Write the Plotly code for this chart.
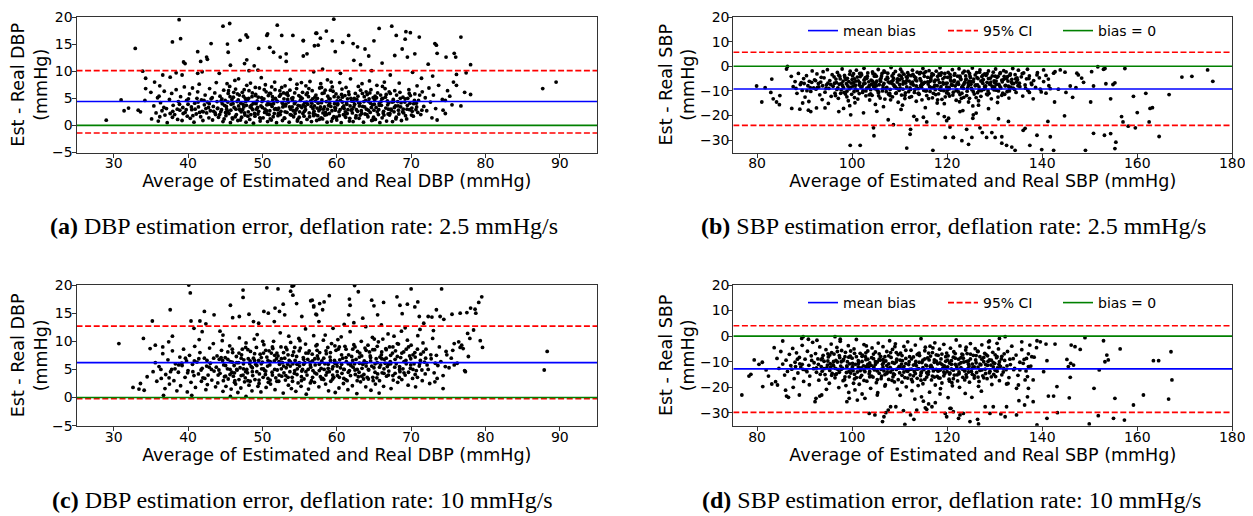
import plotly.graph_objects as go

# ---------------- data ----------------
# (a) DBP, 2.5 mmHg/s
dbp25_core = [
(35.1,1.2),(35.4,3.6),(35.7,2.3),(35.9,5.1),
(36.0,0.8),(36.3,4.2),(36.5,2.7),(36.8,6.3),(36.9,1.9),
(37.1,3.1),(37.2,0.5),(37.5,4.8),(37.6,2.2),(37.8,5.9),(37.9,1.5),
(38.0,3.7),(38.2,2.0),(38.4,6.6),(38.6,1.1),(38.7,4.4),(38.9,2.8),
(39.0,5.3),(39.2,0.9),(39.3,3.3),(39.5,7.1),(39.6,2.4),(39.8,4.6),(39.9,1.7),
(40.0,3.9),(40.2,5.8),(40.3,1.3),(40.5,2.9),(40.6,6.9),(40.8,0.6),(40.9,4.1),(40.95,3.0),
(41.1,2.1),(41.2,5.0),(41.4,3.4),(41.5,7.6),(41.7,1.6),(41.8,4.7),(41.9,2.6),(41.3,6.2),
(42.0,0.9),(42.2,3.8),(42.3,5.6),(42.5,2.3),(42.6,4.3),(42.8,1.4),(42.9,6.8),(42.4,3.1),
(43.0,2.7),(43.1,4.9),(43.3,1.0),(43.4,3.5),(43.6,6.0),(43.7,2.0),(43.9,4.4),(43.8,7.9),
(44.0,3.2),(44.1,1.5),(44.3,5.4),(44.4,2.5),(44.6,4.0),(44.7,0.7),(44.8,6.5),(44.9,3.7),(44.5,2.9),
(45.0,4.6),(45.1,1.8),(45.2,3.0),(45.4,5.9),(45.5,2.2),(45.6,7.2),(45.7,0.5),(45.8,3.9),(45.9,4.8),(45.3,2.6),
(46.0,1.2),(46.1,5.2),(46.2,3.3),(46.4,6.7),(46.5,2.0),(46.6,4.4),(46.7,0.9),(46.8,3.6),(46.9,5.6),(46.3,8.3),
(47.0,2.8),(47.1,4.1),(47.2,1.5),(47.3,6.1),(47.5,3.4),(47.6,2.3),(47.7,5.0),(47.8,0.6),(47.9,7.4),(47.4,3.9),(47.65,1.9),
(48.0,4.6),(48.1,2.5),(48.2,6.4),(48.3,1.1),(48.5,3.7),(48.6,5.3),(48.7,2.9),(48.8,0.4),(48.9,4.2),(48.4,7.8),(48.55,3.2),
(49.0,1.7),(49.1,5.7),(49.2,3.0),(49.3,4.5),(49.4,2.1),(49.6,6.9),(49.7,0.8),(49.8,3.6),(49.9,5.1),(49.5,2.6),(49.85,8.8),
(50.0,3.3),(50.1,1.4),(50.2,4.9),(50.3,2.4),(50.5,6.2),(50.6,3.8),(50.7,0.7),(50.8,5.5),(50.9,2.0),(50.4,7.5),(50.75,4.3),
(51.0,2.7),(51.1,5.9),(51.2,1.0),(51.3,3.5),(51.4,4.7),(51.6,2.2),(51.7,6.6),(51.8,3.1),(51.9,0.5),(51.5,4.0),(51.65,8.0),
(52.0,4.4),(52.1,1.8),(52.2,3.2),(52.3,5.4),(52.5,2.6),(52.6,7.0),(52.7,0.9),(52.8,3.9),(52.9,4.9),(52.4,2.0),(52.85,6.0),
(53.0,1.3),(53.1,3.6),(53.2,5.8),(53.3,2.4),(53.5,4.3),(53.6,0.6),(53.7,6.5),(53.8,3.0),(53.9,1.9),(53.4,4.8),(53.75,8.5),
(54.0,3.4),(54.1,5.1),(54.2,1.6),(54.3,4.0),(54.5,2.8),(54.6,6.8),(54.7,0.8),(54.8,3.7),(54.9,5.5),(54.4,2.2),(54.65,7.6),
(55.0,2.5),(55.1,4.6),(55.2,0.5),(55.3,3.3),(55.4,6.1),(55.6,1.7),(55.7,4.2),(55.8,2.9),(55.9,5.7),(55.5,3.8),(55.85,7.3),
(56.0,1.1),(56.1,3.9),(56.2,5.3),(56.3,2.3),(56.5,4.5),(56.6,0.7),(56.7,6.4),(56.8,3.1),(56.9,1.8),(56.4,8.1),(56.75,4.9),
(57.0,3.6),(57.1,2.0),(57.2,5.6),(57.3,0.9),(57.5,4.1),(57.6,2.7),(57.7,6.9),(57.8,3.4),(57.9,1.4),(57.4,5.0),(57.85,7.7),
(58.0,4.7),(58.1,1.2),(58.2,3.0),(58.3,6.0),(58.5,2.4),(58.6,4.4),(58.7,0.6),(58.8,5.4),(58.9,3.7),(58.4,1.9),(58.75,8.4),
(59.0,2.2),(59.1,4.9),(59.2,3.5),(59.3,0.8),(59.5,6.3),(59.6,1.6),(59.7,4.0),(59.8,2.8),(59.9,5.8),(59.4,7.1),(59.85,3.2),
(60.0,1.0),(60.1,3.8),(60.2,5.2),(60.3,2.5),(60.5,4.6),(60.6,0.5),(60.7,6.7),(60.8,3.3),(60.9,2.0),(60.4,7.9),(60.75,4.3),
(61.0,3.1),(61.1,5.5),(61.2,1.5),(61.3,4.2),(61.5,2.9),(61.6,6.2),(61.7,0.8),(61.8,3.6),(61.9,5.0),(61.4,2.2),(61.85,8.6),
(62.0,4.5),(62.1,2.3),(62.2,0.7),(62.3,3.4),(62.5,5.9),(62.6,1.8),(62.7,4.8),(62.8,2.6),(62.9,7.2),(62.4,3.9),
(63.0,1.3),(63.1,4.1),(63.2,6.5),(63.3,2.7),(63.5,3.5),(63.6,0.6),(63.7,5.3),(63.8,2.1),(63.9,4.6),(63.4,7.7),
(64.0,3.0),(64.1,5.7),(64.2,1.6),(64.3,4.4),(64.5,2.4),(64.6,6.6),(64.7,0.9),(64.8,3.8),(64.9,5.1),(64.4,8.2),
(65.0,2.8),(65.1,4.7),(65.2,1.1),(65.3,3.3),(65.5,6.0),(65.6,2.0),(65.7,4.0),(65.8,0.5),(65.9,5.6),(65.4,7.4),
(66.0,3.7),(66.1,1.4),(66.2,5.0),(66.3,2.6),(66.5,6.8),(66.6,3.2),(66.7,0.8),(66.8,4.5),(66.9,2.1),(66.4,8.0),
(67.0,4.2),(67.1,1.9),(67.2,5.9),(67.3,3.0),(67.5,0.7),(67.6,4.8),(67.7,2.5),(67.8,6.4),(67.9,3.6),
(68.0,1.5),(68.2,4.4),(68.3,2.8),(68.5,6.1),(68.6,3.4),(68.7,0.9),(68.9,5.2),(68.4,7.8),
(69.0,2.3),(69.2,4.9),(69.4,1.2),(69.5,3.7),(69.7,6.6),(69.8,2.9),(69.9,5.5),
(70.1,3.2),(70.3,1.7),(70.5,5.8),(70.7,4.1),(70.8,7.3),(70.9,2.4),
(71.0,4.6),(71.3,2.0),(71.5,6.2),(71.7,3.5),(71.9,5.1),
(72.1,2.7),(72.4,6.9),(72.6,4.3),(72.8,1.4),
(73.0,5.6),(73.3,3.1),(73.7,7.4),
(74.2,4.8),(74.6,2.2),
(75.2,5.4),(75.5,3.8),
]
dbp25_core2 = [
(44.25,2.0),(44.55,4.9),(44.85,1.2),(45.15,3.5),(45.45,6.4),(45.75,2.8),(46.05,4.0),(46.35,1.6),(46.65,5.8),(46.95,3.0),
(47.15,2.5),(47.45,5.4),(47.75,4.4),(48.05,1.7),(48.35,3.4),(48.65,6.0),(48.95,2.2),(49.15,4.0),(49.45,5.2),(49.75,1.3),
(50.05,4.7),(50.35,3.0),(50.65,2.1),(50.95,5.9),(51.15,3.9),(51.45,1.6),(51.75,5.0),(52.05,2.9),(52.35,6.4),(52.65,4.2),
(52.95,1.4),(53.15,3.9),(53.45,5.5),(53.75,2.0),(54.05,4.6),(54.35,6.0),(54.65,3.1),(54.95,1.5),(55.15,5.2),(55.45,2.2),
(55.75,3.5),(56.05,6.0),(56.35,1.6),(56.65,4.1),(56.95,2.6),(57.15,4.5),(57.45,1.8),(57.75,3.0),(58.05,5.9),(58.35,3.4),
(58.65,2.0),(58.95,4.9),(59.15,6.5),(59.45,1.3),(59.75,3.3),(60.05,4.5),(60.35,1.8),(60.65,5.7),(60.95,3.6),(61.15,2.5),
(61.45,4.9),(61.75,1.3),(62.05,3.0),(62.35,5.0),(62.65,2.9),(62.95,4.2),(63.15,1.9),(63.45,5.9),(63.75,3.4),(64.05,2.0),
(64.35,4.9),(64.65,3.3),(64.95,1.5),(65.15,5.4),(65.45,2.5),(65.75,3.7),(66.05,4.9),(66.35,1.9),(66.65,5.7),(66.95,3.0),
(67.15,2.2),(67.45,4.3),(67.75,3.3),(68.05,5.6),(68.35,2.1),(68.65,4.2),(68.95,3.0),(69.25,1.8),(69.55,5.0),(69.85,4.1),
(70.15,2.6),(70.45,4.6),(70.75,3.4),(71.15,5.6),(71.45,2.8),(41.55,2.4),(42.15,4.6),(42.75,3.3),(43.25,5.1),(43.65,2.3),
(40.45,3.4),(39.75,2.9),(38.85,3.9),(37.95,2.6),(36.75,3.3),(36.2,1.6),(57.95,7.0),(53.05,7.3),(49.05,7.0),(61.25,7.0),
(64.45,6.0),(66.15,7.2),(45.25,7.7),(51.25,7.1),(55.25,7.9),(59.25,8.0),
]
dbp25_core3 = [
(45.05,2.4),(45.35,4.3),(45.65,5.3),(45.95,1.4),(46.15,6.1),(46.45,3.0),(46.75,4.7),(47.05,1.0),(47.35,2.9),(47.55,6.6),
(47.85,3.7),(48.15,5.0),(48.45,2.0),(48.75,4.0),(49.05,5.5),(49.35,3.3),(49.65,1.4),(49.95,4.4),(50.25,6.6),(50.55,2.7),
(50.85,3.9),(51.05,1.2),(51.35,5.3),(51.65,3.0),(51.95,4.5),(52.15,2.2),(52.45,5.7),(52.75,3.4),(53.05,2.5),(53.35,6.0),
(53.65,3.4),(53.95,5.0),(54.15,2.7),(54.45,4.3),(54.75,1.1),(55.05,3.6),(55.35,5.0),(55.65,2.6),(55.95,4.3),(56.25,6.8),
(56.55,3.5),(56.85,2.2),(57.05,5.2),(57.35,3.2),(57.65,1.1),(57.95,4.2),(58.15,2.3),(58.45,6.5),(58.75,3.0),(59.05,4.1),
(59.35,2.7),(59.65,5.3),(59.95,1.5),(60.15,4.0),(60.45,2.9),(60.75,5.2),(61.05,1.9),(61.35,3.9),(61.65,5.7),(61.95,2.8),
(62.25,4.4),(62.55,1.4),(62.85,5.4),(63.05,3.6),(63.35,2.2),(63.65,4.4),(63.95,6.2),(64.25,2.8),(64.55,4.1),(64.85,1.0),
(65.05,3.9),(65.35,5.1),(65.65,2.9),(65.95,4.4),(66.25,2.3),(66.55,5.2),(66.85,3.8),(67.05,6.2),(67.35,2.8),(67.65,4.4),
(67.95,1.2),(68.25,3.6),(68.55,5.0),(68.85,2.5),(69.15,4.3),(69.45,3.0),(69.75,5.9),(70.05,1.9),(70.35,4.0),(70.65,2.9),
(43.45,2.6),(42.85,4.0),(42.05,2.5),(41.35,4.3),(40.65,1.8),(40.05,4.9),(39.35,2.2),(38.55,3.0),(44.45,4.5),(43.95,3.1),
]
dbp25_outer = [
(29.0,0.97),(31.0,4.7),(31.4,2.7),(32.0,3.2),(32.9,14.2),(33.9,10.0),(34.3,8.7),(34.3,6.8),
(33.3,2.8),(33.6,2.5),(38.8,19.5),(39.0,16.0),(37.9,15.4),(39.4,11.7),(39.6,11.4),(41.3,13.6),
(41.7,11.8),(42.5,12.6),(42.6,12.2),(43.1,15.1),(44.7,18.3),(45.6,18.8),(45.3,15.0),(45.4,13.5),
(45.7,11.1),(47.0,15.7),(47.8,16.7),(48.0,16.3),(49.5,14.2),(50.7,16.9),(50.6,16.6),(52.0,18.5),
(52.6,16.6),(54.1,16.6),(55.5,15.6),(56.0,13.2),(57.2,17.0),(57.5,14.8),(51.0,14.4),(51.5,13.5),
(53.2,13.2),(53.2,11.8),(52.4,12.6),(47.9,12.1),(47.6,11.4),(48.9,11.0),(49.4,10.2),(48.2,10.1),
(46.8,8.6),(44.2,9.6),(41.9,9.9),(41.3,9.6),(39.2,9.3),(38.4,9.7),(37.6,8.9),(36.6,9.3),
(35.5,8.0),(36.2,7.3),(36.1,5.4),(35.0,6.1),(34.2,4.6),
(59.6,19.6),(57.3,17.0),(57.8,16.1),(58.6,17.4),(55.5,15.7),(57.0,14.7),(59.4,15.6),(59.8,13.6),
(61.6,16.6),(60.8,15.3),(62.2,15.1),(62.8,14.5),(63.8,14.1),(64.3,12.8),(65.0,15.6),(65.7,17.9),
(67.4,18.3),(68.0,16.6),(69.3,17.3),(69.9,17.1),(69.2,15.9),(71.1,16.3),(68.8,14.1),(67.8,12.9),
(69.5,12.6),(70.5,13.2),(73.2,15.1),(73.4,14.8),(73.5,13.3),(74.7,12.6),(75.8,13.3),(76.0,12.6),
(76.7,16.3),(78.0,11.2),(77.4,9.7),(76.1,9.4),(75.7,8.0),(76.1,7.4),(77.2,6.1),(78.0,5.7),
(76.7,3.6),(74.6,4.6),(74.3,2.8),(73.5,1.0),(74.9,6.4),(87.7,6.8),(89.5,8.0),
(72.3,11.3),(55.5,12.8),(62.3,12.0),(63.2,11.2),(66.1,11.5),
(58.1,10.4),(60.5,9.6),(64.7,10.1),(67.2,9.3),(70.2,9.8),(71.4,8.7),(72.9,9.1),(56.9,9.9),
]

# (b) SBP, 2.5 mmHg/s
sbp25_core = [
(87.2,-4.1),(87.6,-8.3),(88.0,-6.2),(88.4,-11.0),(88.7,-2.9),(89.1,-7.4),(89.5,-9.8),(89.8,-5.0),
(90.1,-12.5),(90.4,-3.8),(90.7,-7.9),(91.0,-6.1),(91.3,-10.2),(91.6,-1.9),(91.9,-8.8),(90.9,-14.3),
(92.1,-5.5),(92.4,-9.3),(92.6,-3.1),(92.9,-7.0),(93.2,-11.6),(93.4,-6.4),(93.7,-13.5),(93.9,-2.2),(93.0,-8.4),
(94.1,-4.7),(94.3,-10.5),(94.6,-7.6),(94.8,-1.4),(95.1,-9.0),(95.3,-5.8),(95.6,-12.2),(95.8,-3.4),(95.0,-15.1),(94.9,-6.9),
(96.0,-8.1),(96.2,-4.3),(96.4,-10.9),(96.7,-6.6),(96.9,-2.5),(97.1,-13.0),(97.3,-7.3),(97.5,-5.1),(97.7,-9.6),(97.9,-1.1),(96.5,-11.9),
(98.1,-6.0),(98.2,-8.7),(98.4,-3.7),(98.6,-11.3),(98.8,-7.1),(99.0,-4.9),(99.2,-14.0),(99.4,-9.2),(99.6,-2.0),(99.8,-6.8),(98.9,-10.1),(99.5,-16.0),
(100.0,-5.4),(100.2,-8.0),(100.3,-3.0),(100.5,-12.7),(100.7,-7.7),(100.9,-1.6),(101.1,-9.9),(101.3,-5.9),(101.5,-11.1),(101.7,-4.2),(101.9,-8.5),(100.6,-14.8),(101.6,-6.6),
(102.0,-3.5),(102.2,-10.6),(102.4,-7.2),(102.5,-0.8),(102.7,-5.2),(102.9,-12.0),(103.1,-8.9),(103.3,-2.7),(103.5,-6.3),(103.7,-13.7),(103.9,-9.5),(102.8,-4.6),(103.6,-7.9),
(104.0,-5.6),(104.2,-11.8),(104.3,-2.3),(104.5,-8.2),(104.7,-6.9),(104.9,-15.5),(105.1,-4.0),(105.3,-9.7),(105.5,-1.3),(105.7,-7.5),(105.9,-12.9),(104.8,-3.3),(105.6,-10.4),
(106.0,-6.1),(106.2,-3.9),(106.4,-10.0),(106.5,-7.8),(106.7,-1.9),(106.9,-13.3),(107.1,-5.3),(107.3,-8.6),(107.5,-2.8),(107.7,-11.4),(107.9,-6.7),(106.6,-16.4),(107.4,-4.4),
(108.0,-9.4),(108.2,-0.5),(108.4,-7.0),(108.5,-12.4),(108.7,-4.8),(108.9,-8.1),(109.1,-2.1),(109.3,-10.8),(109.5,-6.4),(109.7,-14.6),(109.9,-3.6),(108.6,-5.7),(109.4,-9.0),
(110.0,-7.4),(110.2,-1.2),(110.4,-11.7),(110.5,-5.0),(110.7,-9.3),(110.9,-3.2),(111.1,-13.1),(111.3,-6.8),(111.5,-8.4),(111.7,-2.6),(111.9,-10.3),(110.6,-15.8),(111.4,-4.3),
(112.0,-6.0),(112.2,-8.8),(112.4,-3.8),(112.5,-12.3),(112.7,-1.6),(112.9,-7.6),(113.1,-10.6),(113.3,-5.5),(113.5,-14.2),(113.7,-2.4),(113.9,-9.1),(112.6,-6.9),(113.4,-4.7),
(114.0,-11.0),(114.2,-3.0),(114.4,-7.9),(114.5,-5.9),(114.7,-13.6),(114.9,-0.9),(115.1,-9.8),(115.3,-6.5),(115.5,-2.2),(115.7,-11.9),(115.9,-4.5),(114.6,-8.5),(115.4,-16.8),
(116.0,-7.2),(116.2,-1.8),(116.4,-10.2),(116.5,-4.9),(116.7,-8.7),(116.9,-12.8),(117.1,-3.4),(117.3,-6.2),(117.5,-9.5),(117.7,-2.0),(117.9,-14.9),(116.6,-5.6),(117.4,-7.7),
(118.0,-4.1),(118.2,-11.2),(118.4,-6.6),(118.5,-0.6),(118.7,-8.3),(118.9,-13.4),(119.1,-5.1),(119.3,-9.9),(119.5,-2.9),(119.7,-7.0),(119.9,-10.8),(118.6,-3.6),(119.4,-15.2),
(120.0,-6.8),(120.2,-2.5),(120.4,-9.2),(120.5,-12.1),(120.7,-4.4),(120.9,-7.5),(121.1,-1.4),(121.3,-10.5),(121.5,-5.7),(121.7,-8.0),(121.9,-13.8),(120.6,-3.3),(121.4,-6.2),
(122.0,-9.6),(122.2,-4.0),(122.4,-7.3),(122.5,-1.0),(122.7,-11.5),(122.9,-5.4),(123.1,-8.6),(123.3,-2.7),(123.5,-12.6),(123.7,-6.5),(123.9,-3.9),(122.6,-14.4),(123.4,-9.0),
(124.0,-5.2),(124.2,-10.1),(124.4,-2.1),(124.5,-7.8),(124.7,-13.0),(124.9,-4.6),(125.1,-8.9),(125.3,-0.7),(125.5,-6.3),(125.7,-11.3),(125.9,-3.5),(124.6,-6.0),(125.4,-16.1),
(126.0,-7.6),(126.2,-2.6),(126.4,-10.7),(126.5,-5.0),(126.7,-8.4),(126.9,-1.5),(127.1,-12.2),(127.3,-4.2),(127.5,-6.9),(127.7,-9.4),(127.9,-3.1),(126.6,-14.0),(127.4,-5.8),
(128.0,-9.0),(128.2,-3.7),(128.4,-6.5),(128.5,-11.6),(128.7,-1.9),(128.9,-7.2),(129.1,-4.8),(129.3,-13.2),(129.5,-8.2),(129.7,-2.4),(129.9,-5.9),(128.6,-10.0),
(130.0,-6.7),(130.2,-1.1),(130.4,-9.7),(130.5,-4.5),(130.7,-12.5),(130.9,-7.4),(131.1,-3.0),(131.3,-8.8),(131.5,-5.6),(131.7,-10.9),(131.9,-1.8),(130.6,-14.7),
(132.0,-4.1),(132.2,-7.9),(132.4,-2.3),(132.6,-10.3),(132.8,-6.0),(133.0,-12.9),(133.2,-3.6),(133.4,-8.5),(133.6,-5.3),(133.8,-0.9),(133.1,-9.5),
(134.0,-7.0),(134.3,-3.4),(134.5,-10.6),(134.8,-5.5),(135.0,-1.6),(135.3,-8.3),(135.6,-4.3),(135.9,-12.1),(134.6,-6.4),
(136.1,-2.7),(136.4,-7.6),(136.7,-5.1),(137.0,-9.8),(137.3,-3.9),(137.7,-6.8),(136.9,-1.2),
(138.2,-5.8),(138.6,-8.6),(139.0,-2.6),(139.4,-4.7),(139.8,-10.4),
(140.3,-6.2),(140.8,-3.7),(141.4,-7.9),
]
sbp25_core2 = [
(96.3,-6.9),(96.8,-9.4),(97.2,-3.6),(97.6,-11.0),(98.0,-7.9),(98.5,-4.6),(98.9,-12.4),(99.3,-6.2),(99.7,-8.6),(100.1,-3.9),
(100.4,-10.3),(100.8,-6.0),(101.2,-13.3),(101.6,-2.9),(102.1,-8.2),(102.5,-5.6),(102.9,-10.0),(103.2,-4.0),(103.6,-11.6),(104.1,-7.3),
(104.4,-3.0),(104.8,-9.1),(105.2,-6.0),(105.6,-12.0),(106.1,-4.8),(106.5,-8.9),(106.9,-2.4),(107.2,-10.3),(107.6,-6.3),(108.1,-13.6),
(108.4,-3.9),(108.8,-7.6),(109.2,-11.0),(109.6,-5.1),(110.1,-8.8),(110.5,-2.3),(110.8,-6.2),(111.2,-10.8),(111.6,-4.6),(112.1,-12.6),
(112.4,-7.1),(112.8,-3.3),(113.2,-9.4),(113.6,-5.9),(114.1,-11.4),(114.4,-2.5),(114.8,-7.3),(115.2,-4.1),(115.6,-9.9),(116.1,-13.1),
(116.4,-6.1),(116.8,-3.0),(117.2,-8.6),(117.6,-11.5),(118.1,-5.5),(118.4,-9.3),(118.8,-2.7),(119.2,-7.2),(119.6,-12.4),(120.1,-4.5),
(120.4,-8.6),(120.8,-6.0),(121.2,-11.7),(121.6,-3.0),(122.1,-7.0),(122.4,-10.4),(122.8,-4.9),(123.2,-8.1),(123.6,-2.0),(124.1,-11.9),
(124.4,-6.8),(124.8,-3.9),(125.2,-9.5),(125.6,-5.2),(126.1,-12.7),(126.4,-7.6),(126.8,-2.4),(127.2,-9.9),(127.6,-5.4),(128.1,-8.0),
(128.4,-3.0),(128.8,-11.0),(129.2,-6.4),(129.6,-9.1),(130.1,-4.0),(130.4,-7.3),(130.8,-10.0),(131.2,-2.6),(131.6,-6.3),(132.1,-11.4),
(132.5,-5.0),(132.9,-8.1),(133.3,-3.1),(133.7,-7.0),(134.2,-9.4),(134.7,-4.7),(135.2,-6.9),(135.8,-3.0),(136.5,-8.9),(137.2,-5.0),
(95.5,-7.4),(94.5,-9.0),(93.5,-4.5),(92.7,-8.6),(91.5,-6.5),(90.5,-9.9),(89.3,-6.6),(88.2,-9.0),
(100.5,-5.1),(105.0,-6.6),(110.0,-5.5),(115.0,-7.0),(120.0,-9.8),(125.0,-7.3),(130.0,-8.4),(108.0,-11.9),(118.0,-13.6),(123.0,-13.0),
]
sbp25_core3 = [
(96.6,-5.2),(97.0,-8.8),(97.4,-4.0),(97.8,-7.0),(98.3,-10.6),(98.7,-5.4),(99.1,-8.0),(99.5,-3.2),(99.9,-11.4),(100.3,-6.6),
(100.7,-9.2),(101.1,-4.4),(101.5,-7.6),(101.9,-2.9),(102.3,-9.9),(102.7,-6.9),(103.1,-4.9),(103.5,-8.5),(103.9,-11.2),(104.3,-6.0),
(104.7,-4.0),(105.1,-7.9),(105.5,-10.7),(105.9,-5.4),(106.3,-2.9),(106.7,-7.0),(107.1,-9.0),(107.5,-4.9),(107.9,-11.0),(108.3,-6.2),
(108.7,-3.0),(109.1,-8.4),(109.5,-5.3),(109.9,-9.8),(110.3,-4.0),(110.7,-7.2),(111.1,-11.8),(111.5,-5.8),(111.9,-3.5),(112.3,-9.4),
(112.7,-6.4),(113.1,-4.2),(113.5,-8.0),(113.9,-11.0),(114.3,-5.0),(114.7,-7.0),(115.1,-2.8),(115.5,-10.0),(115.9,-6.3),(116.3,-8.3),
(116.7,-4.0),(117.1,-11.0),(117.5,-5.6),(117.9,-7.9),(118.3,-3.1),(118.7,-9.7),(119.1,-6.6),(119.5,-4.4),(119.9,-8.4),(120.3,-11.2),
(120.7,-5.5),(121.1,-7.7),(121.5,-3.6),(121.9,-9.9),(122.3,-6.4),(122.7,-4.0),(123.1,-10.9),(123.5,-7.3),(123.9,-5.5),(124.3,-8.8),
(124.7,-2.9),(125.1,-6.2),(125.5,-10.3),(125.9,-7.9),(126.3,-4.6),(126.7,-9.9),(127.1,-6.0),(127.5,-3.6),(127.9,-8.2),(128.3,-11.3),
(128.7,-5.0),(129.1,-7.4),(129.5,-3.9),(129.9,-9.6),(130.3,-6.0),(130.7,-4.1),(131.1,-8.2),(131.5,-11.8),(131.9,-5.3),(132.3,-7.8),
(132.7,-4.2),(133.1,-10.0),(133.5,-6.4),(133.9,-8.9),(134.4,-5.1),(134.9,-7.9),(93.8,-7.9),(92.3,-5.8),(91.2,-8.7),(89.9,-7.0),
]
sbp25_outer = [
(79.9,-8.0),(81.0,-14.5),(81.7,-8.7),(83.1,-5.2),(86.4,-0.1),(86.2,-1.1),(82.9,-10.6),(83.4,-13.2),
(84.1,-14.5),(84.8,-11.9),(84.7,-15.6),(87.3,-17.1),(89.0,-17.4),(90.8,-17.8),(91.3,-18.4),(89.6,-14.9),
(92.5,-16.9),(94.3,-16.9),(97.2,-18.4),(98.2,-17.1),(99.7,-19.7),(99.6,-32.1),(101.7,-32.1),(104.5,-25.0),
(104.6,-28.2),(107.6,-21.7),(108.7,-23.7),(111.5,-33.2),(112.2,-27.6),(112.3,-25.6),(113.6,-21.7),(115.0,-20.7),
(115.7,-22.6),(117.0,-34.1),(119.4,-20.4),(119.6,-28.9),(119.9,-22.1),(120.6,-24.7),(121.3,-28.9),
(105.2,-18.3),(110.3,-17.5),(118.1,-19.2),(123.3,-18.0),(128.7,-17.2),(113.0,-20.3),(102.4,-18.9),(126.1,-19.0),
(174.8,-1.5),(175.9,-6.1),(169.4,-4.4),(171.5,-4.1),(166.7,-11.5),(161.8,-11.0),(159.2,-12.2),(157.4,-0.9),
(160.0,-18.8),(162.7,-17.1),(163.2,-16.8),(162.5,-22.6),(164.6,-28.5),(159.6,-25.0),(158.1,-24.3),(157.0,-22.6),
(156.7,-20.4),(155.5,-30.8),(155.3,-33.4),(154.4,-13.2),(155.3,-6.7),(154.9,-7.4),(153.4,-7.1),(153.2,-0.9),
(152.9,-1.2),(151.7,-0.2),(150.4,-2.2),(150.8,-8.0),(150.2,-14.5),(150.8,-27.2),(153.1,-28.0),(154.4,-27.3),
(149.1,-34.1),(148.7,-6.5),(148.3,-4.8),(147.3,-2.8),(147.6,-3.5),(146.4,-12.6),(144.7,-20.1),(144.8,-2.4),
(143.8,-1.5),(142.7,-2.2),(142.4,-2.8),(142.6,-14.5),(141.3,-5.2),(141.2,-22.4),(141.7,-28.6),(142.4,-34.1),
(138.9,-28.0),(139.9,-33.8),(137.4,-32.1),(136.4,-25.2),(136.0,-26.0),(134.3,-34.1),(133.6,-32.8),(132.5,-32.1),
(131.5,-31.2),(131.5,-28.6),(130.1,-28.9),(129.4,-26.9),(130.8,-21.3),(132.9,-22.4),(128.3,-28.9),(127.4,-26.9),
(126.9,-25.0),(125.4,-21.1),(125.2,-28.9),(124.5,-31.7),(124.1,-25.6),(123.1,-30.2),(121.3,-28.9),(120.3,-21.1),
(124.5,-14.5),(122.7,-18.4),(125.5,-19.7),(126.6,-15.8),
(140.3,-1.5),(138.9,-3.5),(137.8,-7.4),(139.6,-9.3),(137.3,-10.6),(138.1,-13.2),(141.7,-9.1),(140.8,-10.9),
(143.4,-9.3),(145.0,-10.6),(145.9,-8.0),(147.1,-8.7),
]

# (c) DBP, 10 mmHg/s
dbp10_core = [
(35.3,4.6),(35.6,6.2),(35.8,2.9),
(36.1,5.5),(36.4,3.4),(36.6,7.8),(36.9,1.6),
(37.0,4.1),(37.3,6.7),(37.5,2.4),(37.8,5.0),(37.9,8.3),
(38.1,3.0),(38.3,6.0),(38.5,1.2),(38.7,4.5),(38.9,7.2),
(39.0,2.1),(39.2,5.7),(39.4,8.6),(39.6,3.6),(39.8,6.5),(39.9,1.0),
(40.0,4.8),(40.2,7.5),(40.4,2.7),(40.6,5.9),(40.8,3.9),(40.9,9.1),
(41.0,1.8),(41.2,6.3),(41.4,4.2),(41.6,8.0),(41.8,2.9),(41.9,5.2),(41.5,10.3),
(42.0,3.5),(42.2,7.0),(42.4,1.4),(42.5,5.6),(42.7,4.0),(42.9,8.8),(42.6,2.3),
(43.0,6.1),(43.2,3.1),(43.4,9.6),(43.5,4.7),(43.7,1.9),(43.9,7.4),(43.8,5.4),
(44.0,2.6),(44.2,6.8),(44.3,4.3),(44.5,8.4),(44.7,1.1),(44.8,5.8),(44.9,3.7),(44.6,10.1),
(45.0,7.1),(45.1,2.0),(45.3,5.1),(45.4,3.3),(45.6,9.2),(45.7,6.4),(45.8,1.5),(45.9,4.5),
(46.0,8.0),(46.1,3.8),(46.2,5.7),(46.4,2.4),(46.5,7.3),(46.6,4.9),(46.7,0.9),(46.8,6.2),(46.9,10.6),(46.3,3.0),
(47.0,5.3),(47.1,1.7),(47.3,8.6),(47.4,4.0),(47.5,6.7),(47.6,2.8),(47.8,9.7),(47.9,5.0),(47.7,3.5),(47.2,7.6),
(48.0,4.4),(48.1,6.9),(48.2,2.2),(48.4,8.2),(48.5,5.5),(48.6,1.2),(48.7,3.9),(48.8,7.0),(48.9,10.4),(48.3,6.0),
(49.0,3.2),(49.1,5.9),(49.2,8.9),(49.4,2.0),(49.5,6.6),(49.6,4.2),(49.7,7.7),(49.8,1.0),(49.9,5.1),(49.3,11.2),
(50.0,6.3),(50.1,3.6),(50.2,9.4),(50.3,4.8),(50.5,1.8),(50.6,7.2),(50.7,5.6),(50.8,2.7),(50.9,8.3),(50.4,4.1),
(51.0,5.8),(51.1,2.4),(51.2,7.9),(51.3,4.5),(51.5,10.0),(51.6,6.5),(51.7,1.4),(51.8,3.5),(51.9,6.9),(51.4,8.7),
(52.0,4.9),(52.1,7.4),(52.2,2.9),(52.3,5.9),(52.5,9.0),(52.6,3.8),(52.7,6.2),(52.8,0.8),(52.9,4.4),(52.4,11.5),
(53.0,7.0),(53.1,3.1),(53.2,5.3),(53.3,8.5),(53.5,2.2),(53.6,6.6),(53.7,4.6),(53.8,9.8),(53.9,1.6),(53.4,5.9),
(54.0,3.6),(54.1,6.0),(54.2,8.1),(54.3,4.3),(54.5,1.1),(54.6,7.3),(54.7,5.1),(54.8,2.6),(54.9,10.5),(54.4,6.6),
(55.0,5.6),(55.1,8.8),(55.2,2.0),(55.3,4.7),(55.5,7.1),(55.6,3.3),(55.7,6.2),(55.8,9.5),(55.9,0.6),(55.4,5.0),
(56.0,4.0),(56.1,6.8),(56.2,1.5),(56.3,8.3),(56.5,5.4),(56.6,3.0),(56.7,7.7),(56.8,4.8),(56.9,11.0),(56.4,6.3),
(57.0,2.7),(57.1,5.8),(57.2,9.2),(57.3,4.2),(57.5,6.9),(57.6,1.9),(57.7,8.0),(57.8,3.7),(57.9,5.2),(57.4,7.4),
(58.0,6.5),(58.1,3.4),(58.2,10.2),(58.3,5.0),(58.5,2.4),(58.6,7.8),(58.7,4.5),(58.8,8.9),(58.9,1.2),(58.4,6.0),
(59.0,4.6),(59.1,7.2),(59.2,2.9),(59.3,9.6),(59.5,5.5),(59.6,3.6),(59.7,6.6),(59.8,0.9),(59.9,8.4),(59.4,5.1),
(60.0,6.1),(60.1,3.9),(60.2,8.6),(60.3,1.7),(60.5,5.3),(60.6,10.8),(60.7,4.3),(60.8,7.0),(60.9,2.5),(60.4,6.7),
(61.0,5.0),(61.1,9.1),(61.2,3.2),(61.3,6.4),(61.5,1.4),(61.6,7.6),(61.7,4.8),(61.8,11.7),(61.9,5.7),(61.4,3.0),
(62.0,7.3),(62.1,2.1),(62.2,5.4),(62.3,9.4),(62.5,4.1),(62.6,6.8),(62.7,0.7),(62.8,8.2),(62.9,3.7),(62.4,6.0),
(63.0,4.5),(63.1,7.9),(63.2,2.8),(63.3,10.0),(63.5,5.9),(63.6,3.3),(63.7,6.5),(63.8,8.8),(63.9,1.9),(63.4,5.2),
(64.0,6.2),(64.1,3.6),(64.2,9.3),(64.3,4.9),(64.5,7.4),(64.6,1.3),(64.7,5.6),(64.8,10.7),(64.9,3.0),(64.4,8.1),
(65.0,5.3),(65.1,8.5),(65.2,2.4),(65.3,6.9),(65.5,4.2),(65.6,9.9),(65.7,0.8),(65.8,7.2),(65.9,5.8),(65.4,3.5),
(66.0,7.6),(66.1,4.4),(66.2,10.4),(66.3,2.0),(66.5,6.1),(66.6,8.7),(66.7,3.8),(66.8,5.5),(66.9,11.3),(66.4,6.8),
(67.0,4.7),(67.1,9.0),(67.2,6.4),(67.3,1.6),(67.5,7.9),(67.6,3.1),(67.7,10.9),(67.8,5.4),(67.9,8.3),
(68.0,6.0),(68.2,2.7),(68.3,9.5),(68.5,4.6),(68.6,7.1),(68.7,11.8),(68.9,5.1),(68.4,3.6),
(69.0,8.1),(69.2,4.0),(69.3,6.6),(69.5,10.2),(69.6,2.2),(69.8,7.4),(69.9,5.2),
(70.0,9.3),(70.2,3.4),(70.4,6.0),(70.5,8.0),(70.7,4.8),(70.9,11.0),(70.6,1.9),
(71.1,5.6),(71.3,7.7),(71.5,3.0),(71.6,9.7),(71.8,6.3),(71.9,4.2),
(72.0,8.6),(72.3,5.0),(72.5,2.5),(72.7,6.9),(72.9,10.5),
(73.1,4.4),(73.4,7.5),(73.6,5.7),(73.8,9.0),
(74.0,6.4),(74.3,3.9),(74.7,8.2),
(75.1,5.3),(75.4,7.0),(75.8,9.6),
(76.2,6.1),(76.6,8.9),
(77.2,4.8),(77.7,7.3),
]
dbp10_core2 = [
(44.15,4.9),(44.45,7.1),(44.75,3.0),(45.05,5.7),(45.35,8.1),(45.65,4.1),(45.95,6.3),(46.25,2.7),(46.55,5.0),(46.85,7.9),
(47.15,3.9),(47.45,6.0),(47.75,4.6),(48.05,8.5),(48.35,2.9),(48.65,5.3),(48.95,6.6),(49.25,4.6),(49.55,3.1),(49.85,7.1),
(50.15,5.1),(50.45,8.4),(50.75,3.4),(51.05,6.4),(51.35,4.0),(51.65,7.5),(51.95,2.9),(52.25,6.4),(52.55,5.1),(52.85,8.0),
(53.15,3.9),(53.45,7.6),(53.75,5.6),(54.05,2.9),(54.35,8.9),(54.65,4.1),(54.95,6.2),(55.25,3.7),(55.55,5.9),(55.85,7.9),
(56.15,5.0),(56.45,2.6),(56.75,6.5),(57.05,4.4),(57.35,8.4),(57.65,5.9),(57.95,3.3),(58.25,7.0),(58.55,4.0),(58.85,5.9),
(59.15,8.0),(59.45,3.3),(59.75,6.1),(60.05,4.6),(60.35,9.0),(60.65,5.9),(60.95,3.4),(61.25,7.1),(61.55,4.5),(61.85,6.0),
(62.15,8.6),(62.45,4.9),(62.75,3.0),(63.05,6.1),(63.35,7.4),(63.65,4.1),(63.95,5.6),(64.25,3.3),(64.55,6.5),(64.85,8.5),
(65.15,4.5),(65.45,6.2),(65.75,3.0),(66.05,8.1),(66.35,5.1),(66.65,7.0),(66.95,4.0),(67.25,6.0),(67.55,9.0),(67.85,4.3),
(68.15,7.3),(68.45,5.5),(68.75,3.2),(69.05,6.4),(69.35,8.6),(69.65,4.5),(69.95,6.9),(70.25,5.0),(70.55,7.2),(70.85,3.6),
(71.25,6.6),(71.65,8.1),(72.15,5.8),(72.65,7.6),(73.25,6.1),(43.15,5.0),(42.55,6.6),(41.75,4.9),(40.85,6.5),(39.95,4.4),
(39.15,6.1),(38.25,5.1),(37.45,3.5),(36.35,5.0),(50.05,10.0),(55.05,10.1),(60.15,10.3),(65.05,10.4),(58.45,11.1),(53.55,10.9),
]
dbp10_core3 = [
(45.05,3.8),(45.35,6.8),(45.65,5.0),(45.95,8.6),(46.25,4.4),(46.55,6.2),(46.85,3.2),(47.15,7.0),(47.45,5.1),(47.75,8.9),
(48.05,3.0),(48.35,6.5),(48.65,4.6),(48.95,7.8),(49.25,5.7),(49.55,2.5),(49.85,6.0),(50.15,7.9),(50.45,4.7),(50.75,6.6),
(51.05,3.1),(51.35,9.0),(51.65,5.0),(51.95,7.9),(52.25,4.0),(52.55,6.9),(52.85,5.6),(53.15,8.9),(53.45,3.6),(53.75,6.4),
(54.05,7.5),(54.35,4.8),(54.65,5.9),(54.95,8.3),(55.25,3.0),(55.55,6.8),(55.85,4.6),(56.15,7.9),(56.45,5.8),(56.75,3.6),
(57.05,6.9),(57.35,9.4),(57.65,4.8),(57.95,6.3),(58.25,3.2),(58.55,8.3),(58.85,5.2),(59.15,6.6),(59.45,4.0),(59.75,9.2),
(60.05,5.6),(60.35,3.6),(60.65,7.6),(60.95,5.0),(61.25,8.6),(61.55,6.0),(61.85,3.9),(62.15,6.6),(62.45,9.0),(62.75,5.0),
(63.05,7.2),(63.35,3.8),(63.65,6.2),(63.95,8.4),(64.25,5.0),(64.55,7.1),(64.85,3.6),(65.15,6.0),(65.45,9.1),(65.75,5.4),
(66.05,6.9),(66.35,4.3),(66.65,8.5),(66.95,5.9),(67.25,7.5),(67.55,3.9),(67.85,6.8),(68.15,9.6),(68.45,5.0),(68.75,7.9),
(69.05,4.4),(69.35,6.0),(69.65,9.0),(69.95,5.8),(70.25,7.6),(70.55,4.1),(70.85,8.6),(71.15,6.0),(71.45,4.9),(71.95,7.0),
(44.65,6.6),(44.05,4.0),(43.45,7.0),(42.85,5.4),(42.25,3.4),(41.45,6.9),(40.65,4.6),(39.65,7.0),(38.75,5.8),(37.65,4.6),
]
dbp10_outer = [
(30.7,9.6),(32.6,1.8),(33.4,1.5),(34.0,10.5),(33.6,2.5),(34.1,1.3),(34.5,3.7),(35.2,13.6),
(35.6,9.3),(34.9,8.7),(37.6,15.6),(37.9,10.9),(37.4,9.9),(36.6,9.0),(40.1,20.0),(40.3,18.6),
(40.4,13.6),(40.8,12.3),(41.9,11.7),(41.6,13.6),(42.2,15.3),(42.4,13.1),(43.5,14.7),(44.3,11.8),
(44.7,11.1),(45.7,16.4),(46.0,14.2),(46.9,14.4),(47.4,19.1),(47.4,17.8),(48.2,14.8),(48.8,13.5),
(49.5,13.2),(50.2,15.3),(50.8,15.0),(50.6,19.5),(52.1,19.3),(51.7,15.9),(51.6,13.5),(52.3,15.3),
(52.8,16.6),(53.0,14.7),(54.0,19.8),(54.2,19.9),(53.8,18.9),(54.1,18.2),(54.6,16.7),(55.3,14.4),
(56.5,17.2),(56.9,16.3),(57.2,14.8),(57.6,13.5),
(36.7,0.4),(40.5,0.4),(45.7,0.2),(47.8,0.2),
(62.4,19.9),(62.9,18.8),(59.0,18.1),(58.3,17.0),(57.7,16.7),(56.9,16.1),(56.7,17.3),(58.1,15.6),
(57.3,14.7),(61.7,17.5),(61.8,16.4),(61.6,14.7),(62.3,13.3),(63.5,14.1),(64.7,17.3),(65.0,16.3),
(65.5,14.7),(66.3,16.9),(68.1,17.9),(68.5,16.4),(68.8,14.9),(69.5,16.6),(70.0,19.3),(70.5,16.1),
(70.9,17.0),(71.1,14.4),(71.7,13.2),(72.3,14.4),(72.8,14.3),(73.4,15.6),(73.9,14.4),(74.1,19.3),
(74.4,13.9),(75.5,14.8),(76.6,15.0),(77.5,15.1),(78.0,15.9),(78.6,15.7),(78.7,15.0),(79.1,16.9),
(79.5,17.9),(78.4,12.0),(77.6,11.4),(77.9,10.5),(79.3,10.1),(79.6,8.9),(77.0,8.7),(76.8,9.3),
(76.4,9.9),(75.6,8.4),(74.8,7.6),(75.8,5.8),(77.3,4.6),(74.6,5.5),(73.5,3.4),(73.2,2.8),
(74.3,1.6),(87.9,4.9),(88.3,8.2),
(59.5,12.3),(63.9,12.6),(66.0,12.9),(69.2,12.4),(71.2,12.1),(73.0,11.9),(55.8,12.2),(61.0,13.0),
]

# (d) SBP, 10 mmHg/s
sbp10_core = [
(84.2,-8.7),(84.6,-12.6),(85.0,-6.0),(85.4,-10.9),(85.8,-15.2),
(86.1,-9.4),(86.4,-13.8),(86.8,-7.1),(87.1,-11.5),(87.5,-4.8),(87.8,-16.6),(87.3,-12.9),
(88.0,-10.2),(88.3,-6.5),(88.6,-14.4),(88.9,-8.3),(89.2,-12.1),(89.5,-3.6),(89.8,-17.7),(89.0,-10.8),
(90.1,-9.0),(90.3,-13.3),(90.6,-5.9),(90.9,-11.4),(91.1,-15.6),(91.4,-7.7),(91.7,-2.4),(91.9,-12.7),(91.0,-19.0),
(92.0,-10.4),(92.3,-6.8),(92.5,-14.1),(92.8,-8.9),(93.0,-17.2),(93.2,-4.2),(93.5,-11.9),(93.7,-13.7),(93.9,-7.5),(92.6,-1.6),
(94.1,-9.8),(94.3,-15.0),(94.5,-5.3),(94.7,-12.3),(95.0,-8.1),(95.2,-18.4),(95.4,-10.7),(95.6,-3.1),(95.8,-14.6),(94.9,-6.9),(95.5,-12.0),
(96.0,-11.2),(96.2,-7.0),(96.4,-16.3),(96.6,-9.5),(96.8,-4.4),(97.0,-13.0),(97.2,-20.1),(97.4,-8.4),(97.6,-11.7),(97.8,-5.6),(96.7,-14.8),(97.5,-2.0),
(98.0,-12.5),(98.2,-9.1),(98.4,-17.0),(98.6,-6.3),(98.8,-14.2),(99.0,-10.0),(99.2,-3.7),(99.4,-15.9),(99.6,-7.8),(99.8,-12.9),(98.7,-19.3),(99.5,-10.8),
(100.0,-8.6),(100.2,-13.5),(100.4,-5.0),(100.5,-16.7),(100.7,-11.0),(100.9,-1.3),(101.1,-14.0),(101.3,-9.6),(101.5,-18.8),(101.7,-6.7),(101.9,-12.4),(100.6,-21.0),(101.4,-10.3),
(102.0,-15.3),(102.2,-7.4),(102.4,-11.6),(102.5,-3.3),(102.7,-13.9),(102.9,-9.2),(103.1,-17.6),(103.3,-5.8),(103.5,-12.1),(103.7,-10.5),(103.9,-20.4),(102.8,-8.0),(103.6,-14.7),
(104.0,-11.4),(104.2,-4.6),(104.4,-16.0),(104.5,-8.8),(104.7,-13.2),(104.9,-6.2),(105.1,-18.2),(105.3,-10.1),(105.5,-2.7),(105.7,-14.5),(105.9,-9.4),(104.6,-12.0),(105.4,-22.1),
(106.0,-7.9),(106.2,-15.6),(106.4,-11.0),(106.5,-4.1),(106.7,-13.6),(106.9,-19.5),(107.1,-9.7),(107.3,-6.0),(107.5,-12.8),(107.7,-16.9),(107.9,-1.8),(106.6,-10.4),(107.4,-14.1),
(108.0,-12.2),(108.2,-8.3),(108.4,-17.3),(108.5,-5.2),(108.7,-14.8),(108.9,-10.6),(109.1,-3.0),(109.3,-13.0),(109.5,-20.7),(109.7,-7.2),(109.9,-11.8),(108.6,-15.9),(109.4,-9.0),
(110.0,-14.3),(110.2,-6.6),(110.4,-10.9),(110.5,-18.0),(110.7,-12.6),(110.9,-4.0),(111.1,-16.2),(111.3,-8.7),(111.5,-13.4),(111.7,-2.2),(111.9,-11.1),(110.6,-9.6),(111.4,-19.8),
(112.0,-10.0),(112.2,-15.1),(112.4,-5.5),(112.5,-12.9),(112.7,-17.8),(112.9,-8.1),(113.1,-13.8),(113.3,-3.5),(113.5,-11.5),(113.7,-16.5),(113.9,-6.9),(112.6,-21.3),(113.4,-9.9),
(114.0,-12.7),(114.2,-7.6),(114.4,-15.4),(114.5,-1.0),(114.7,-10.3),(114.9,-18.6),(115.1,-13.1),(115.3,-5.7),(115.5,-11.3),(115.7,-16.0),(115.9,-8.5),(114.6,-14.0),(115.4,-4.3),
(116.0,-14.9),(116.2,-9.3),(116.4,-3.9),(116.5,-12.0),(116.7,-17.1),(116.9,-6.4),(117.1,-13.6),(117.3,-10.2),(117.5,-19.1),(117.7,-7.3),(117.9,-15.7),(116.6,-11.4),(117.4,-2.6),
(118.0,-10.8),(118.2,-16.3),(118.4,-5.1),(118.5,-13.3),(118.7,-8.9),(118.9,-18.3),(119.1,-12.4),(119.3,-3.2),(119.5,-14.6),(119.7,-9.8),(119.9,-6.6),(118.6,-20.5),(119.4,-11.6),
(120.0,-13.9),(120.2,-7.7),(120.4,-16.8),(120.5,-10.5),(120.7,-4.7),(120.9,-12.8),(121.1,-19.4),(121.3,-8.2),(121.5,-15.2),(121.7,-11.0),(121.9,-1.5),(120.6,-14.4),(121.4,-6.1),
(122.0,-11.9),(122.2,-17.5),(122.4,-9.0),(122.5,-14.7),(122.7,-3.8),(122.9,-12.3),(123.1,-7.0),(123.3,-16.1),(123.5,-10.1),(123.7,-13.5),(123.9,-5.4),(122.6,-20.0),(123.4,-8.6),
(124.0,-15.0),(124.2,-6.8),(124.4,-12.6),(124.5,-9.7),(124.7,-18.0),(124.9,-2.9),(125.1,-13.8),(125.3,-10.9),(125.5,-7.5),(125.7,-16.4),(125.9,-4.9),(124.6,-11.7),
(126.0,-9.3),(126.2,-14.2),(126.4,-5.9),(126.5,-12.1),(126.7,-17.7),(126.9,-8.0),(127.1,-11.2),(127.3,-3.4),(127.5,-15.5),(127.7,-10.0),(127.9,-6.7),(126.6,-19.6),
(128.0,-12.9),(128.2,-7.2),(128.4,-16.6),(128.6,-9.9),(128.8,-4.4),(129.0,-13.7),(129.2,-11.3),(129.4,-18.9),(129.6,-6.3),(129.8,-14.9),(128.9,-1.9),
(130.0,-10.6),(130.2,-15.8),(130.4,-8.4),(130.6,-12.4),(130.8,-5.0),(131.0,-17.4),(131.2,-11.8),(131.5,-7.9),(131.8,-14.0),(130.5,-2.8),
(132.1,-9.5),(132.4,-13.1),(132.7,-6.0),(133.0,-16.2),(133.3,-11.1),(133.6,-3.9),(133.9,-8.8),(132.8,-18.5),
(134.2,-12.6),(134.5,-7.4),(134.9,-15.3),(135.3,-10.2),(135.7,-5.3),
(136.2,-9.1),(136.6,-13.6),(137.1,-6.9),(137.6,-11.7),
(138.3,-8.2),(138.8,-4.5),
]
sbp10_core2 = [
(94.8,-11.3),(95.3,-7.4),(95.7,-15.3),(96.1,-9.9),(96.5,-12.6),(96.9,-6.0),(97.3,-14.1),(97.7,-10.0),(98.1,-17.4),(98.5,-8.0),
(98.9,-11.6),(99.3,-13.9),(99.7,-5.8),(100.1,-10.6),(100.5,-14.9),(100.9,-8.0),(101.3,-12.0),(101.7,-16.1),(102.1,-9.9),(102.5,-13.2),
(102.9,-6.5),(103.3,-11.0),(103.7,-15.9),(104.1,-8.4),(104.5,-12.6),(104.9,-10.0),(105.3,-17.0),(105.7,-6.9),(106.1,-13.0),(106.5,-9.1),
(106.9,-15.0),(107.3,-11.5),(107.7,-7.7),(108.1,-14.0),(108.5,-10.3),(108.9,-17.9),(109.3,-6.4),(109.7,-12.5),(110.1,-9.4),(110.5,-15.3),
(110.9,-11.9),(111.3,-5.5),(111.7,-13.8),(112.1,-8.0),(112.5,-16.9),(112.9,-11.3),(113.3,-14.6),(113.7,-7.2),(114.1,-10.2),(114.5,-17.2),
(114.9,-12.3),(115.3,-8.9),(115.7,-14.3),(116.1,-6.6),(116.5,-11.8),(116.9,-15.6),(117.3,-9.3),(117.7,-13.0),(118.1,-7.5),(118.5,-16.4),
(118.9,-11.0),(119.3,-14.0),(119.7,-8.0),(120.1,-12.0),(120.5,-17.6),(120.9,-9.6),(121.3,-13.3),(121.7,-6.8),(122.1,-15.1),(122.5,-10.9),
(122.9,-8.4),(123.3,-13.0),(123.7,-17.1),(124.1,-9.9),(124.5,-14.0),(124.9,-7.0),(125.3,-12.4),(125.7,-15.4),(126.1,-10.4),(126.5,-6.0),
(126.9,-13.4),(127.3,-9.0),(127.7,-16.3),(128.1,-11.1),(128.5,-7.7),(128.9,-14.3),(129.3,-9.4),(129.7,-12.0),(130.1,-13.3),(130.5,-8.0),
(131.0,-10.0),(131.5,-15.1),(132.0,-6.9),(132.6,-11.6),(133.2,-9.0),(134.0,-13.1),(93.5,-9.2),(92.5,-12.4),(91.5,-9.5),(90.5,-13.9),
(89.5,-11.0),(88.5,-9.0),(100.3,-18.4),(107.0,-19.0),(113.9,-19.3),(121.0,-18.2),(117.0,-4.6),(109.0,-4.1),(103.0,-3.8),(124.0,-4.3),
]
sbp10_core3 = [
(92.9,-11.0),(93.3,-14.9),(93.7,-8.6),(94.1,-12.7),(94.5,-16.8),(94.9,-9.7),(95.3,-13.4),(95.7,-6.4),(96.1,-11.6),(96.5,-15.0),
(96.9,-10.1),(97.3,-7.6),(97.7,-13.0),(98.1,-9.6),(98.5,-15.9),(98.9,-12.0),(99.3,-8.2),(99.7,-14.4),(100.1,-11.9),(100.5,-6.7),
(100.9,-16.2),(101.3,-10.8),(101.7,-13.5),(102.1,-7.9),(102.5,-17.3),(102.9,-11.9),(103.3,-9.0),(103.7,-13.8),(104.1,-15.6),(104.5,-7.0),
(104.9,-11.0),(105.3,-13.6),(105.7,-9.0),(106.1,-16.6),(106.5,-12.1),(106.9,-8.0),(107.3,-14.6),(107.7,-10.8),(108.1,-6.4),(108.5,-13.1),
(108.9,-15.0),(109.3,-10.0),(109.7,-17.0),(110.1,-12.0),(110.5,-7.6),(110.9,-14.0),(111.3,-10.7),(111.7,-16.4),(112.1,-13.0),(112.5,-8.9),
(112.9,-15.5),(113.3,-10.8),(113.7,-12.9),(114.1,-6.6),(114.5,-14.4),(114.9,-9.4),(115.3,-16.9),(115.7,-11.6),(116.1,-13.9),(116.5,-7.8),
(116.9,-12.4),(117.3,-16.0),(117.7,-9.8),(118.1,-13.7),(118.5,-10.5),(118.9,-7.0),(119.3,-15.5),(119.7,-12.6),(120.1,-9.4),(120.5,-14.8),
(120.9,-11.0),(121.3,-16.6),(121.7,-8.6),(122.1,-12.7),(122.5,-14.0),(122.9,-10.4),(123.3,-7.3),(123.7,-13.6),(124.1,-16.0),(124.5,-11.0),
(124.9,-8.9),(125.3,-14.9),(125.7,-12.0),(126.1,-7.6),(126.5,-16.0),(126.9,-10.9),(127.3,-13.2),(127.7,-8.3),(128.1,-14.6),(128.5,-11.4),
(128.9,-9.3),(129.3,-15.9),(129.7,-10.4),(130.1,-7.3),(130.5,-13.7),(130.9,-11.0),(131.4,-8.9),(131.9,-12.6),(89.7,-13.0),(88.1,-11.9),
]
sbp10_outer = [
(76.8,-23.0),(78.3,-15.6),(78.7,-14.9),(79.4,-9.3),(80.4,-11.0),(81.1,-10.2),(81.2,-19.7),(81.9,-13.2),
(82.4,-15.6),(83.6,-4.5),(83.1,-18.7),(83.9,-17.8),(84.3,-19.1),(85.4,-1.9),(86.0,-21.1),(86.2,-23.4),
(86.6,-23.9),(87.6,-20.0),(88.9,-23.0),(89.4,-0.9),(89.7,-0.2),(90.8,-1.2),(92.2,-25.6),(92.4,-24.3),
(93.2,-23.4),(93.6,-23.0),(94.6,-20.8),(96.4,-0.2),(97.5,-1.2),(98.9,-25.6),(99.4,-24.3),(101.1,-25.0),
(102.7,-24.3),(103.6,-30.2),(104.8,-30.8),(105.3,-23.0),(106.4,-33.4),(106.7,-31.5),(107.1,-29.9),(107.6,-28.9),
(108.1,-27.6),(109.2,-27.6),(110.8,-29.1),(111.1,-34.5),(112.3,-30.8),(113.0,-32.5),(113.6,-28.9),(114.6,-23.7),
(115.0,-25.4),(115.4,-28.0),(115.7,-28.6),(116.1,-26.5),(116.8,-27.6),(117.5,-26.0),(118.5,-22.6),(119.6,-30.2),
(119.9,-31.5),(120.8,-28.2),(121.3,-29.5),
(149.0,-0.6),(152.9,-1.8),(156.4,-5.0),(153.6,-7.4),(153.9,-9.3),(153.2,-10.0),(152.0,-13.2),(150.9,-20.4),
(149.9,-34.3),(151.8,-31.1),(155.0,-32.1),(157.3,-32.8),(155.3,-24.3),(159.2,-26.9),(161.3,-23.0),(163.4,-9.6),
(164.5,-9.6),(167.1,-6.1),(167.3,-17.1),(166.6,-24.6),(148.0,-5.2),(146.9,-4.1),(146.1,-3.5),(145.2,-9.1),
(146.6,-11.3),(146.0,-10.6),(145.5,-11.9),(145.9,-16.1),(143.1,-19.7),(145.7,-24.1),(143.2,-29.9),(142.7,-3.1),
(140.8,-3.1),(141.0,-9.6),(140.3,-13.9),(141.3,-23.4),(142.4,-23.4),(141.0,-32.1),(138.9,-34.7),(139.6,-2.2),
(138.9,-1.8),(137.4,-3.5),(136.9,-23.7),(136.3,-26.9),(135.1,-25.2),(138.1,-25.6),(134.6,-30.8),(132.2,-31.5),
(131.3,-30.4),(129.0,-30.2),(126.6,-34.3),(126.4,-32.5),(124.8,-33.4),(122.7,-30.8),(122.4,-32.1),(120.6,-28.2),
(123.4,-30.2),(125.2,-23.9),(128.0,-27.6),(129.7,-27.6),(132.5,-27.6),(134.6,-20.4),(135.0,-19.1),(132.5,-18.7),
(136.9,-15.8),(136.4,-17.1),(138.1,-17.1),(137.1,-20.4),
(131.0,-0.9),(132.2,-0.2),(128.7,-2.2),(135.7,-2.2),(136.7,-8.7),(137.8,-8.0),(137.1,-11.9),(135.3,-13.2),(136.0,-10.6),
(102.1,-22.6),(110.1,-23.1),(116.3,-21.9),(123.8,-22.4),(127.2,-21.5),(99.3,-22.0),(113.2,-24.6),(120.2,-24.0),
]

# Bland-Altman statistics per panel (a, b, c, d)
mean_bias = [4.4, -9.2, 6.2, -12.8]
ci_upper = [10.1, 5.7, 12.7, 4.1]
ci_lower = [-1.4, -24.0, -0.2, -29.8]

x_ranges = [[25, 95], [75, 180], [25, 95], [75, 180]]
y_ranges = [[-5, 20], [-35, 20], [-5, 20], [-35, 20]]
x_ticks = [[30, 40, 50, 60, 70, 80, 90], [80, 100, 120, 140, 160, 180],
           [30, 40, 50, 60, 70, 80, 90], [80, 100, 120, 140, 160, 180]]
y_ticks = [[-5, 0, 5, 10, 15, 20], [-30, -20, -10, 0, 10, 20],
           [-5, 0, 5, 10, 15, 20], [-30, -20, -10, 0, 10, 20]]
x_titles = ["Average of Estimated and Real DBP (mmHg)", "Average of Estimated and Real SBP (mmHg)",
            "Average of Estimated and Real DBP (mmHg)", "Average of Estimated and Real SBP (mmHg)"]
y_titles = ["Est - Real DBP<br>(mmHg)", "Est - Real SBP<br>(mmHg)",
            "Est - Real DBP<br>(mmHg)", "Est - Real SBP<br>(mmHg)"]
captions = ["<b>(a)</b> DBP estimation error, deflation rate: 2.5 mmHg/s",
            "<b>(b)</b> SBP estimation error, deflation rate: 2.5 mmHg/s",
            "<b>(c)</b> DBP estimation error, deflation rate: 10 mmHg/s",
            "<b>(d)</b> SBP estimation error, deflation rate: 10 mmHg/s"]
legend_names = ["mean bias", "95% CI", "bias = 0"]

panels = [dbp25_core + dbp25_core2 + dbp25_core3 + dbp25_outer,
          sbp25_core + sbp25_core2 + sbp25_core3 + sbp25_outer,
          dbp10_core + dbp10_core2 + dbp10_core3 + dbp10_outer,
          sbp10_core + sbp10_core2 + sbp10_core3 + sbp10_outer]

# ---------------- layout geometry ----------------
# the page body adds an 8px offset, so the figure is laid out in shifted pixel coords
OFF = 8
W, H = 1253 - OFF, 516 - OFF

def fx(px):
    return (px - OFF) / W

def fy(py):
    return 1 - (py - OFF) / H

x_dom = [[fx(76.5), fx(597)], [fx(733.3), fx(1232.3)]]
y_dom = [[fy(152.5), fy(17)], [fy(425.7), fy(285)]]
cap_pos = [(304, 226), (953, 226), (302, 500), (951, 500)]
legend_x_px = [803, 943, 1058]
legend_y_px = {1: 31, 3: 303}

fig = go.Figure()
FONT = "DejaVu Sans"

def fmt(v):
    return str(v).replace("-", "\u2212")

layout = {}
legend_layout = {}
leg_counter = 0
for i in range(4):
    col, row = i % 2, i // 2
    sfx = "" if i == 0 else str(i + 1)
    xa, ya = "x" + sfx, "y" + sfx
    pts = panels[i]
    fig.add_trace(go.Scatter(
        x=[p[0] for p in pts], y=[p[1] for p in pts], mode="markers",
        marker=dict(color="black", size=3.8, line=dict(width=0)),
        xaxis=xa, yaxis=ya, showlegend=False, hoverinfo="skip"))
    xr = x_ranges[i]
    specs = [(mean_bias[i], "#0000ff", "solid", 0, True),
             (ci_upper[i], "#ff0000", "6px,2.6px", 1, True),
             (ci_lower[i], "#ff0000", "6px,2.6px", 1, False),
             (0, "#008000", "solid", 2, True)]
    for val, colr, dash, li, show in specs:
        has_leg = (i in legend_y_px) and show
        leg_id = "legend"
        if has_leg:
            leg_counter += 1
            leg_id = "legend" if leg_counter == 1 else "legend%d" % leg_counter
            legend_layout[leg_id] = dict(
                x=fx(legend_x_px[li]), y=fy(legend_y_px[i]),
                xanchor="left", yanchor="middle", orientation="h",
                bgcolor="rgba(255,255,255,0)", borderwidth=0,
                font=dict(family=FONT, size=14, color="black"), itemwidth=30)
        fig.add_trace(go.Scatter(
            x=xr, y=[val, val], mode="lines", name=legend_names[li],
            line=dict(color=colr, width=1.6, dash=dash),
            xaxis=xa, yaxis=ya, hoverinfo="skip",
            showlegend=has_leg, legend=leg_id))
    layout["xaxis" + sfx] = dict(
        domain=x_dom[col], anchor=ya, range=xr, showgrid=False, zeroline=False,
        showline=True, mirror=True, linecolor="#333333", linewidth=1,
        ticks="outside", ticklen=4, tickwidth=1, tickcolor="#333333",
        ticklabelstandoff=-6, ticklabeloverflow="allow",
        tickvals=x_ticks[i], ticktext=[fmt(v) for v in x_ticks[i]],
        tickfont=dict(family=FONT, size=14, color="black"),
        title=dict(text=x_titles[i], font=dict(family=FONT, size=17.5, color="black"), standoff=4))
    layout["yaxis" + sfx] = dict(
        domain=y_dom[row], anchor=xa, range=y_ranges[i], showgrid=False, zeroline=False,
        showline=True, mirror=True, linecolor="#333333", linewidth=1,
        ticks="outside", ticklen=4, tickwidth=1, tickcolor="#333333",
        ticklabelstandoff=-4, ticklabeloverflow="allow",
        tickvals=y_ticks[i], ticktext=[fmt(v) for v in y_ticks[i]],
        tickfont=dict(family=FONT, size=14, color="black"),
        title=dict(text=y_titles[i], font=dict(family=FONT, size=17.5, color="black"), standoff=0))

annotations = []
for i in range(4):
    cx, cy = cap_pos[i]
    annotations.append(dict(
        text=captions[i], x=fx(cx), y=fy(cy), xref="paper", yref="paper",
        xanchor="center", yanchor="middle", showarrow=False,
        font=dict(family="Liberation Serif", size=24, color="black")))

fig.update_layout(
    width=W, height=H, margin=dict(l=0, r=0, t=0, b=0, autoexpand=False),
    paper_bgcolor="white", plot_bgcolor="white",
    annotations=annotations,
    **legend_layout,
    **layout)

fig.write_html("out.html")
